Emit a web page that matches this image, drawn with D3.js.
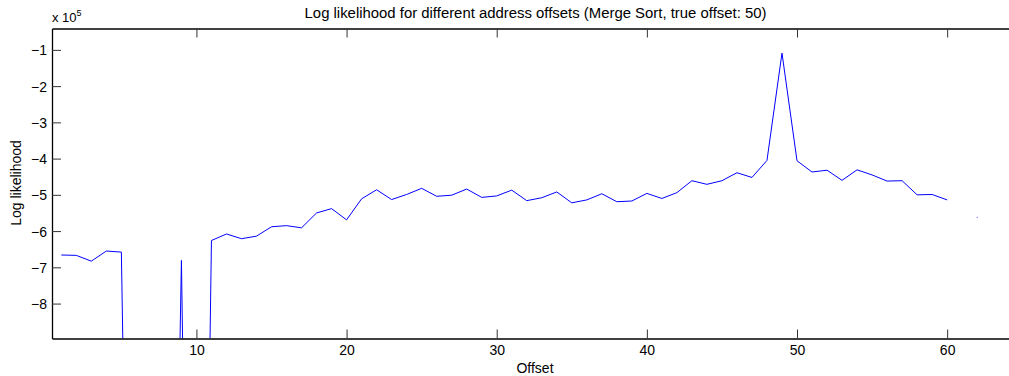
<!DOCTYPE html>
<html>
<head>
<meta charset="utf-8">
<script src="https://cdn.jsdelivr.net/npm/d3@7"></script>
<style>
  html, body { margin: 0; padding: 0; background: #fff; }
  svg { display: block; font-family: "Liberation Sans", Arial, Helvetica, sans-serif; }
</style>
</head>
<body>
<div id="chart"></div>
<script>
// offsets 1..62, log likelihood in units of 1e5 (null = missing)
const offsets = d3.range(1, 63);
const logLik = [
  -6.66, -6.67, -6.83, -6.55, -6.58, -32, -30, -30, -6.81, -35,
  -6.26, -6.08, -6.21, -6.14, -5.88, -5.85, -5.91, -5.50, -5.38, -5.69,
  -5.11, -4.86, -5.13, -4.99, -4.82, -5.04, -5.01, -4.84, -5.07, -5.03,
  -4.87, -5.16, -5.08, -4.92, -5.22, -5.14, -4.97, -5.19, -5.17, -4.96,
  -5.10, -4.94, -4.61, -4.71, -4.61, -4.39, -4.52, -4.05, -1.09, -4.06,
  -4.37, -4.32, -4.60, -4.31, -4.45, -4.62, -4.61, -5.00, -4.99, -5.14,
  null, -5.62
];
const xTicks = [10, 20, 30, 40, 50, 60];
const yTicks = [-1, -2, -3, -4, -5, -6, -7, -8];
const xDomain = [0.38, 64.12];
const yDomain = [-8.964, -0.41];

const width = 1009, height = 376;
const margin = {left: 52, top: 28.5, right: 0, bottom: 37.5};

const svg = d3.select("#chart").append("svg")
  .attr("width", width)
  .attr("height", height);

const x = d3.scaleLinear().domain(xDomain).range([margin.left, width - margin.right]);
const y = d3.scaleLinear().domain(yDomain).range([height - margin.bottom, margin.top]);

const fmt = d3.format("d");

svg.append("defs").append("clipPath").attr("id", "plot")
  .append("rect")
  .attr("x", margin.left).attr("y", margin.top)
  .attr("width", width - margin.left - margin.right)
  .attr("height", height - margin.top - margin.bottom);

// data line
const data = offsets.map((o, i) => ({o, v: logLik[i]}));
const line = d3.line()
  .defined(d => d.v !== null)
  .x(d => x(d.o))
  .y(d => y(d.v));

svg.append("path")
  .datum(data)
  .attr("clip-path", "url(#plot)")
  .attr("fill", "none")
  .attr("stroke", "#0000ff")
  .attr("stroke-width", 1)
  .attr("d", line);

// isolated points (no neighbours to connect to)
const lone = data.filter((d, i) => d.v !== null &&
  (i === 0 || data[i - 1].v === null) && (i === data.length - 1 || data[i + 1].v === null));
svg.append("g").selectAll("circle").data(lone).enter().append("circle")
  .attr("cx", d => x(d.o)).attr("cy", d => y(d.v))
  .attr("r", 0.5).attr("fill", "#0000ff");

// axes
const tick = 9;
const axBottom = svg.append("g")
  .attr("transform", `translate(0, ${y.range()[0]})`)
  .call(d3.axisBottom(x).tickValues(xTicks).tickSizeInner(-tick).tickSizeOuter(0).tickPadding(7).tickFormat(fmt));
const axTop = svg.append("g")
  .attr("transform", `translate(0, ${y.range()[1]})`)
  .call(d3.axisTop(x).tickValues(xTicks).tickSizeInner(-tick).tickSizeOuter(0).tickFormat(""));
const axLeft = svg.append("g")
  .attr("transform", `translate(${margin.left}, 0)`)
  .call(d3.axisLeft(y).tickValues(yTicks).tickSizeInner(-tick).tickSizeOuter(0).tickPadding(5).tickFormat(fmt));

[axBottom, axTop, axLeft].forEach(g => {
  g.select(".domain").attr("stroke", "#000").attr("stroke-width", 1.3);
  g.selectAll(".tick line").attr("stroke", "#333").attr("stroke-width", 1);
  g.selectAll(".tick text").attr("fill", "#000").style("font-size", "14px");
});
axLeft.selectAll(".tick text").attr("dy", "0.36em");

// exponent label
const expo = svg.append("text")
  .attr("x", margin.left).attr("y", 21.5)
  .style("font-size", "13px").attr("fill", "#000");
expo.append("tspan").text("x 10");
expo.append("tspan").attr("dy", -6).style("font-size", "9px").text("5");

// title and axis labels
svg.append("text")
  .attr("x", 535.5).attr("y", 17.5)
  .attr("text-anchor", "middle")
  .style("font-size", "14.9px")
  .text("Log likelihood for different address offsets (Merge Sort, true offset: 50)");

svg.append("text")
  .attr("x", 535).attr("y", 373)
  .attr("text-anchor", "middle")
  .style("font-size", "14px")
  .text("Offset");

svg.append("text")
  .attr("transform", "translate(21, 183) rotate(-90)")
  .attr("text-anchor", "middle")
  .style("font-size", "14px")
  .text("Log likelihood");
</script>
</body>
</html>
